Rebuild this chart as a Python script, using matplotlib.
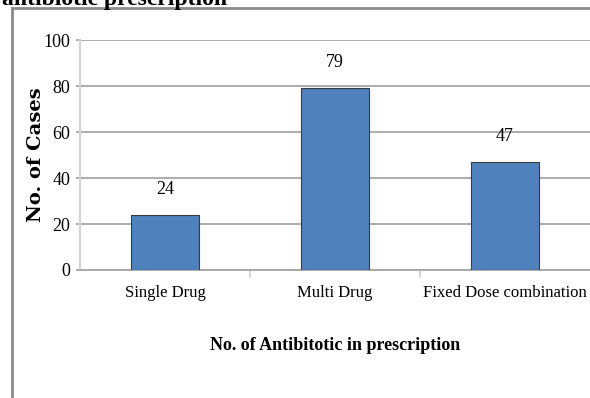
import matplotlib.pyplot as plt
from matplotlib.lines import Line2D

categories = ["Single Drug", "Multi Drug", "Fixed Dose combination"]
cases = [24, 79, 47]
y_ticks = [0, 20, 40, 60, 80, 100]

serif = ["Liberation Serif", "DejaVu Serif"]
grid_col = "#a6a6a6"

fig = plt.figure(figsize=(5.9, 3.98), dpi=100)
ax = fig.add_axes([80 / 590, 1 - 270 / 398, 510 / 590, 230 / 398])

x = list(range(len(categories)))
ax.bar(x, cases, width=0.4, color="#4f81bd", edgecolor="#3b3b3b", linewidth=0.8, zorder=3)

for xi, v in zip(x, cases):
    ax.annotate(str(v), (xi, v), xytext=(0, 15), textcoords="offset points",
                ha="center", va="baseline", fontsize=13, family=serif)

ax.set_xlim(-0.5, 2.5)
ax.set_ylim(0, 100)
ax.set_yticks(y_ticks)
ax.set_yticklabels([str(t) for t in y_ticks], family=serif, fontsize=13)
ax.set_xticks(x)
ax.set_xticklabels(categories, family=serif, fontsize=12)
ax.set_xticks([0.5, 1.5], minor=True)

ax.yaxis.grid(True, color=grid_col, linewidth=1.3, zorder=0)
ax.tick_params(axis="y", length=3, color=grid_col, width=1.3, pad=4)
ax.tick_params(axis="x", which="major", length=0, pad=11)
ax.tick_params(axis="x", which="minor", length=6, color="#d0d0d0", width=1.2)

for s in ["top", "right"]:
    ax.spines[s].set_visible(False)
ax.spines["left"].set_color("#d4d4d4")
ax.spines["left"].set_linewidth(1.5)
ax.spines["bottom"].set_color(grid_col)
ax.spines["bottom"].set_linewidth(1.3)

ax.set_xlabel("No. of Antibitotic in prescription", family=serif,
              fontweight="bold", fontsize=13, labelpad=26)
fig.text(36 / 590, 1 - 155 / 398, "No. of Cases", rotation=90, ha="center", va="center",
         family="DejaVu Serif", fontweight="bold", fontsize=14)

# heading line above the chart frame, cut off at the top
fig.text(2 / 590, 1 - 5 / 398, "antibiotic prescription", ha="left", va="baseline",
         family=serif, fontweight="bold", fontsize=17)

# chart frame
frame = dict(color="#8c8c8c", linewidth=2, transform=fig.transFigure)
fig.add_artist(Line2D([12 / 590, 12 / 590], [0, 1 - 8 / 398], **frame))
fig.add_artist(Line2D([12 / 590, 1], [1 - 8 / 398, 1 - 8 / 398], **frame))

fig.savefig("out.png", dpi=100)
